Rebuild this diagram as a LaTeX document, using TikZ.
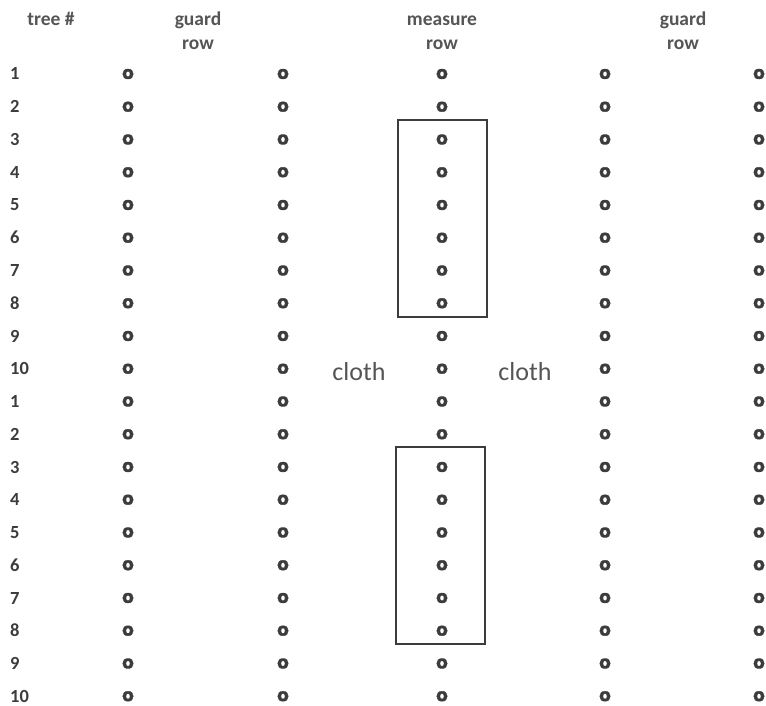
\documentclass[tikz,border=0pt]{standalone}
\usepackage{fontspec}
\setmainfont{Carlito}
\newfontfamily\ofont[FakeBold=2]{DejaVu Sans}
\begin{document}
\begin{tikzpicture}[x=1pt,y=-1pt,
  txt/.style={text=ink,font=\fontsize{18.5}{20}\selectfont\bfseries,inner sep=0pt},
  hdr/.style={text=hink,font=\fontsize{19.5}{21}\selectfont\bfseries,inner sep=0pt},
  tree/.style={text=ink,font=\ofont\bfseries\fontsize{17.5}{18}\selectfont,inner sep=0pt},
  lbl/.style={text=hink,font=\fontsize{26}{28}\selectfont,inner sep=0pt},
  boxline/.style={draw=ink,line width=1.8pt}]
\definecolor{ink}{HTML}{3C3C3C}
\definecolor{hink}{HTML}{555555}
\useasboundingbox (0,0) rectangle (766,706);
\fill[white] (0,0) rectangle (766,706);
% headers
\node[hdr,anchor=base] (h0) at (51,26) {tree \#};
\node[hdr,anchor=base] (h1a) at (198,26) {guard};
\node[hdr,anchor=base] (h1b) at (198,50) {row};
\node[hdr,anchor=base] (h2a) at (442,26) {measure};
\node[hdr,anchor=base] (h2b) at (442,50) {row};
\node[hdr,anchor=base] (h3a) at (683,26) {guard};
\node[hdr,anchor=base] (h3b) at (683,50) {row};
% rows
\foreach \i in {1,...,20}{
  \pgfmathtruncatemacro{\n}{mod(\i-1,10)+1}
  \pgfmathsetmacro{\yy}{74+(\i-1)*32.75}
  \node[txt,anchor=base west] (n\i) at (10,\yy+6) {\n};
  \node[tree] (a\i) at (128,\yy) {o};
  \node[tree] (b\i) at (283,\yy) {o};
  \node[tree] (c\i) at (442,\yy) {o};
  \node[tree] (d\i) at (605,\yy) {o};
  \node[tree] (e\i) at (759,\yy) {o};
}
\node[lbl,anchor=base] (cl1) at (359,380) {cloth};
\node[lbl,anchor=base] (cl2) at (525,380) {cloth};
\draw[boxline] (398,120) rectangle (487,317);
\draw[boxline] (396,447) rectangle (485,644);
\end{tikzpicture}
\end{document}
